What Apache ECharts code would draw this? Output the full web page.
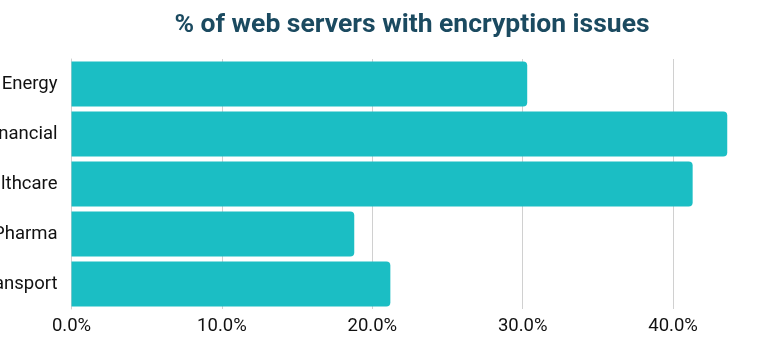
<!DOCTYPE html>
<html>
<head>
<meta charset="utf-8">
<script src="https://cdn.jsdelivr.net/npm/echarts@6/dist/echarts.min.js"></script>
<style>html,body{margin:0;padding:0;background:#fff;}#c{width:780px;height:358px;}</style>
</head>
<body>
<div id="c"></div>
<script>
const categories = ['Energy', 'Financial', 'Healthcare', 'Pharma', 'Transport'];
const values = [30.3, 43.6, 41.3, 18.8, 21.2];
const xTicks = [0, 10, 20, 30, 40, 50];

const chart = echarts.init(document.getElementById('c'), null, {renderer: 'canvas'});
chart.setOption({
  animation: false,
  title: {
    text: '% of web servers with encryption issues',
    left: 407, top: 7, textAlign: 'center',
    textStyle: {fontFamily: 'Roboto', fontWeight: 'bold', fontSize: 26.5, color: '#1b4a60'}
  },
  grid: {left: 71.5, top: 59, width: 752, height: 250, containLabel: false, outerBoundsMode: 'none'},
  xAxis: {
    type: 'value', min: xTicks[0], max: xTicks[xTicks.length - 1], interval: 10,
    axisLine: {show: false}, axisTick: {show: false},
    splitLine: {show: true, lineStyle: {color: '#d0d0d0', width: 1}},
    axisLabel: {formatter: v => v.toFixed(1) + '%', fontFamily: 'Roboto', fontSize: 18.5, color: '#111', margin: 8}
  },
  yAxis: {
    type: 'category', data: categories, inverse: true,
    axisLine: {show: true, lineStyle: {color: '#d0d0d0'}}, axisTick: {show: false},
    axisLabel: {fontFamily: 'Roboto', fontSize: 18.5, color: '#111', margin: 14}
  },
  series: [{
    type: 'bar', data: values, barCategoryGap: '10%',
    itemStyle: {color: '#1bbec4', borderRadius: [0, 4, 4, 0]}
  }]
});
</script>
</body>
</html>
